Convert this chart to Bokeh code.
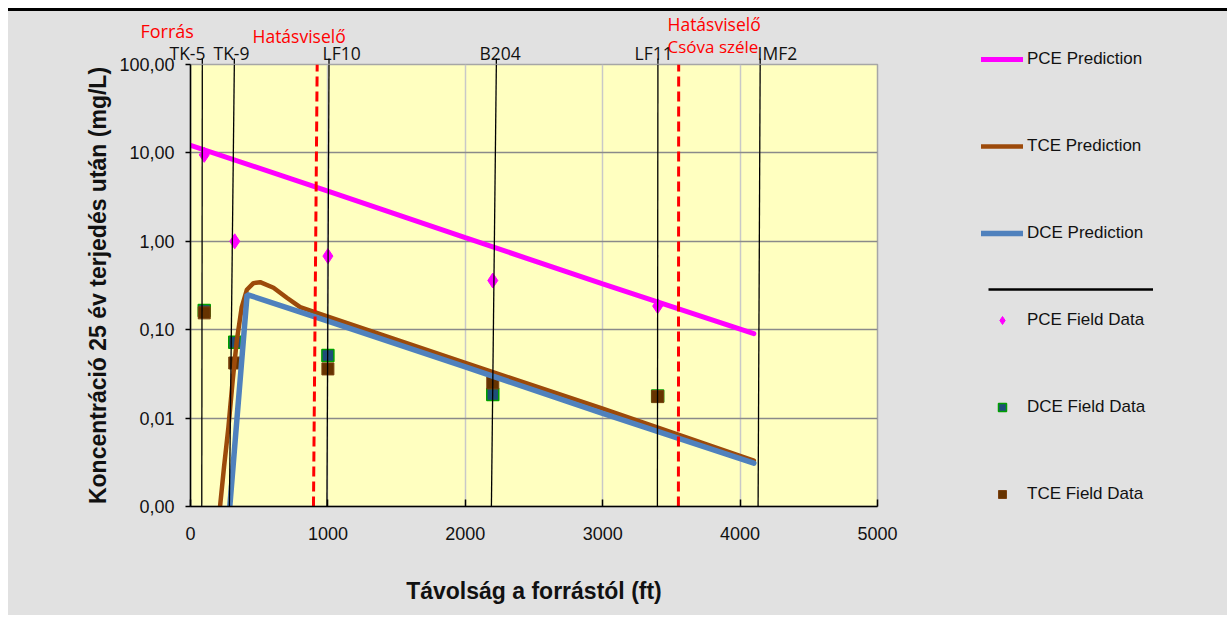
from bokeh.plotting import figure
from bokeh.models import (FixedTicker, Legend, LegendItem, Range1d, Div, ColumnDataSource)
from bokeh.layouts import column, row
from bokeh.core.properties import value, field
from bokeh.embed import file_html
from bokeh.resources import INLINE

# ---------------- data ----------------
x_ticks = [0, 1000, 2000, 3000, 4000, 5000]
y_ticks = [0.001, 0.01, 0.1, 1, 10, 100]
y_tick_labels = ["0,00", "0,01", "0,10", "1,00", "10,00", "100,00"]

pce_pred_x = [0, 1000, 2000, 3000, 4100]
pce_pred_y = [12.2, 3.7, 1.1, 0.33, 0.090]

tce_pred_x = [215, 244, 276, 307, 337, 373, 410, 458, 507, 604, 701, 798, 1000, 2000, 3000, 4100]
tce_pred_y = [0.001, 0.0028, 0.0079, 0.0266, 0.0755, 0.18, 0.283, 0.336, 0.345, 0.298, 0.23, 0.18,
              0.141, 0.042, 0.0128, 0.0033]

dce_pred_x = [286, 412, 1000, 2000, 3000, 4100]
dce_pred_y = [0.001, 0.25, 0.125, 0.038, 0.0113, 0.0031]

field_x = [100, 322, 1000, 2200, 3400]
pce_field = [9.5, 1.0, 0.68, 0.36, 0.185]
dce_field = [0.165, 0.072, 0.051, 0.0185, 0.0178]
tce_field = [0.155, 0.042, 0.036, 0.025, 0.0175]

well_names = ["TK-5", "TK-9", "LF10", "B204", "LF11", "IMF2"]
well_x_bottom = [82, 283, 993, 2190, 3398, 4131]
well_x_top = [86, 319, 1008, 2226, 3402, 4146]

boundary_x_bottom = [895, 3551]
boundary_x_top = [922, 3553]
boundary_notes = ["Forrás", "Hatásviselő", "Hatásviselő", "Csóva széle"]

series_names = ["PCE Prediction", "TCE Prediction", "DCE Prediction",
                "PCE Field Data", "DCE Field Data", "TCE Field Data"]

x_title = "Távolság a forrástól (ft)"
y_title = "Koncentráció 25 év terjedés után (mg/L)"

# ---------------- layout constants (page pixels) ----------------
XMIN, XMAX = x_ticks[0], x_ticks[-1]
YMIN, YMAX = y_ticks[0], y_ticks[-1]
PAGE_L, PAGE_T = 8, 11            # top-left of the drawing below the black rule
PAGE_R, PAGE_B = 1227, 615
SPLIT_X = 950                     # chart | legend
STRIP_B = 70                      # bottom of the label strip (lies under the chart)
MAIN_T = 47                       # top of the chart canvas (overlaps the strip)
FRAME_L, FRAME_R, FRAME_T, FRAME_B = 190, 877, 64, 506
PX_PER_X = (FRAME_R - FRAME_L) / (XMAX - XMIN)
NAN = float("nan")

GREY = "#e1e1e1"


def px_to_x(px):
    return XMIN + (px - FRAME_L) / PX_PER_X


def style_blank(f):
    f.background_fill_color = GREY
    f.border_fill_color = GREY
    f.outline_line_color = None
    f.grid.visible = False


# ---------------- label strip above the plot ----------------
strip = figure(width=SPLIT_X - PAGE_L, height=STRIP_B - PAGE_T,
               x_range=Range1d(px_to_x(PAGE_L), px_to_x(SPLIT_X)),
               y_range=Range1d(STRIP_B, PAGE_T),
               x_axis_location=None, y_axis_location=None,
               min_border=0, min_border_left=0, min_border_right=0,
               min_border_top=0, min_border_bottom=0,
               output_backend="svg", toolbar_location=None)
strip.frame_align = False
style_blank(strip)

top_text = [boundary_notes[0], boundary_notes[1], well_names[0], well_names[1], well_names[2],
            well_names[3], well_names[4], boundary_notes[2], boundary_notes[3], well_names[5]]
top_px = [140, 252, 169, 213, 322, 479, 634, 667, 667, 757]
top_py = [30, 35, 52, 52, 52, 52, 52, 23, 46, 52]
top_col = ["#ff0000", "#ff0000", "#111111", "#111111", "#111111", "#111111", "#111111",
           "#ff0000", "#ff0000", "#111111"]
top_size = ["18px", "17.5px", "17.5px", "17.5px", "17.5px", "17.5px", "17.5px", "17.5px",
            "17px", "17.5px"]
top_src = ColumnDataSource(dict(x=[px_to_x(v) for v in top_px], y=top_py, text=top_text,
                                color=top_col, size=top_size))
strip.text(x="x", y="y", text="text", source=top_src, text_color=field("color"),
           text_font_size=field("size"), text_font=value("Open Sans"),
           text_align="left", text_baseline="middle")
# stubs of the well lines reaching above the plot area
n_w = len(well_names)
strip.segment(x0=well_x_top, y0=[STRIP_B] * n_w, x1=well_x_top, y1=[58] * n_w,
              line_color="black", line_width=1.3)

# ---------------- main chart ----------------
main_h = PAGE_B - MAIN_T
p = figure(width=SPLIT_X - PAGE_L, height=main_h,
           x_range=Range1d(XMIN, XMAX), y_range=Range1d(YMIN, YMAX),
           y_axis_type="log", output_backend="svg", toolbar_location=None,
           min_border_left=FRAME_L - PAGE_L, min_border_right=SPLIT_X - FRAME_R,
           min_border_top=FRAME_T - MAIN_T, min_border_bottom=main_h - (FRAME_B - MAIN_T),
           margin=(MAIN_T - STRIP_B, 0, 0, 0))
p.frame_align = False

p.background_fill_color = "#ffffc0"
p.border_fill_color = GREY
p.border_fill_alpha = 0
p.outline_line_color = "#a6a6a6"
p.outline_line_width = 1.5

p.xaxis.ticker = FixedTicker(ticks=x_ticks, minor_ticks=[])
p.yaxis.ticker = FixedTicker(ticks=y_ticks, minor_ticks=[])
p.yaxis.major_label_overrides = {t: l for t, l in zip(y_ticks, y_tick_labels)}
for ax in (p.xaxis, p.yaxis):
    ax.axis_line_color = "black"
    ax.axis_line_width = 1.5
    ax.major_tick_line_color = "black"
    ax.major_tick_line_width = 1.5
    ax.minor_tick_line_color = None
    ax.major_label_text_font = "Liberation Sans"
    ax.major_label_text_font_size = "18px"
    ax.major_label_text_color = "#111111"
    ax.axis_label_text_font = "Liberation Sans"
    ax.axis_label_text_font_style = "bold"
    ax.axis_label_text_font_size = "23px"
    ax.axis_label_text_color = "#111111"
p.xaxis.major_tick_in = 7
p.xaxis.major_tick_out = 0
p.xaxis.major_label_standoff = 20
p.xaxis.axis_label = x_title
p.xaxis.axis_label_standoff = 35
p.yaxis.major_tick_in = 0
p.yaxis.major_tick_out = 5
p.yaxis.major_label_standoff = 11
p.yaxis.axis_label = y_title
p.yaxis.axis_label_standoff = 5

p.xgrid.grid_line_color = "#c8c8c8"
p.xgrid.grid_line_width = 1.5
p.ygrid.grid_line_color = "#8a8a8a"
p.ygrid.grid_line_width = 1.5

PCE_STYLE = dict(marker="diamond", size=15, fill_color="#ff00ff", line_color="#ff00ff")
DCE_STYLE = dict(marker="square", size=12, fill_color="#1f4e79", line_color="#00a000", line_width=1.5)
TCE_STYLE = dict(marker="square", size=12, fill_color="#663300", line_color="#7a4010", line_width=1)
PCE_LINE = dict(line_color="#ff00ff", line_width=5, line_cap="round")
TCE_LINE = dict(line_color="#9c4a0a", line_width=4.5, line_cap="round", line_join="round")
DCE_LINE = dict(line_color="#4f81bd", line_width=5.5, line_cap="round")

# field data markers (drawn first, lines on top)
p.scatter(field_x, pce_field, **PCE_STYLE)
p.scatter(field_x, dce_field, **DCE_STYLE)
p.scatter(field_x, tce_field, **TCE_STYLE)

# prediction lines
p.line(pce_pred_x, pce_pred_y, **PCE_LINE)
p.line(tce_pred_x, tce_pred_y, **TCE_LINE)
p.line(dce_pred_x, dce_pred_y, **DCE_LINE)

# well lines and plume boundary lines
p.segment(x0=well_x_bottom, y0=[YMIN] * n_w, x1=well_x_top, y1=[YMAX] * n_w,
          line_color="black", line_width=1.3)
n_b = len(boundary_x_bottom)
p.segment(x0=boundary_x_bottom, y0=[YMIN] * n_b, x1=boundary_x_top, y1=[YMAX] * n_b,
          line_color="#ff0000", line_width=3, line_dash="10 5")

# ---------------- legend panel ----------------
leg_h = PAGE_B - PAGE_T
lg = figure(width=PAGE_R - SPLIT_X, height=leg_h,
            x_range=Range1d(0, 1), y_range=Range1d(0, 1),
            x_axis_location=None, y_axis_location=None,
            min_border=0, min_border_left=0, min_border_right=0,
            min_border_top=0, min_border_bottom=0,
            output_backend="svg", toolbar_location=None)
lg.frame_align = False
style_blank(lg)

# legend-only renderers (no visible data points)
e_pce = lg.line(x=[NAN], y=[NAN], **PCE_LINE)
e_tce = lg.line(x=[NAN], y=[NAN], **TCE_LINE)
e_dce = lg.line(x=[NAN], y=[NAN], **DCE_LINE)
e_pce_f = lg.scatter(x=[NAN], y=[NAN], **dict(PCE_STYLE, size=11))
e_dce_f = lg.scatter(x=[NAN], y=[NAN], **dict(DCE_STYLE, size=10))
e_tce_f = lg.scatter(x=[NAN], y=[NAN], **dict(TCE_STYLE, size=10))
e_sep = lg.line(x=[NAN], y=[NAN], line_color="black", line_width=2.5)

legend = Legend(items=[
    LegendItem(label=series_names[0], renderers=[e_pce]),
    LegendItem(label=series_names[1], renderers=[e_tce]),
    LegendItem(label=series_names[2], renderers=[e_dce]),
    LegendItem(label=series_names[3], renderers=[e_pce_f]),
    LegendItem(label=series_names[4], renderers=[e_dce_f]),
    LegendItem(label=series_names[5], renderers=[e_tce_f]),
], location=(981 - SPLIT_X, PAGE_B - 48 - 455 - 1))
legend.background_fill_alpha = 0
legend.border_line_alpha = 0
legend.padding = 0
legend.margin = 0
legend.spacing = 67
legend.glyph_width = 42
legend.glyph_height = 20
legend.label_height = 20
legend.label_standoff = 4
legend.label_text_font = "Liberation Sans"
legend.label_text_font_size = "17px"
legend.label_text_color = "#111111"
lg.add_layout(legend)

sep_legend = Legend(items=[LegendItem(label=" ", renderers=[e_sep])],
                    location=(988 - SPLIT_X, PAGE_B - 279 - 20))
sep_legend.background_fill_alpha = 0
sep_legend.border_line_alpha = 0
sep_legend.padding = 0
sep_legend.margin = 0
sep_legend.glyph_width = 165
sep_legend.glyph_height = 20
sep_legend.label_height = 20
sep_legend.label_width = 1
sep_legend.label_standoff = 0
sep_legend.label_text_font_size = "1px"
lg.add_layout(sep_legend)

top_rule = Div(text="", width=PAGE_R - PAGE_L, height=3, margin=0,
               styles={"background-color": "black"})
chart = column(strip, p, spacing=0, styles={"background-color": GREY})
body = row(chart, lg, spacing=0, styles={"background-color": GREY})
layout = column(top_rule, body, spacing=0, margin=(8, 0, 0, 8))

open("out.html", "w").write(file_html(layout, INLINE))
